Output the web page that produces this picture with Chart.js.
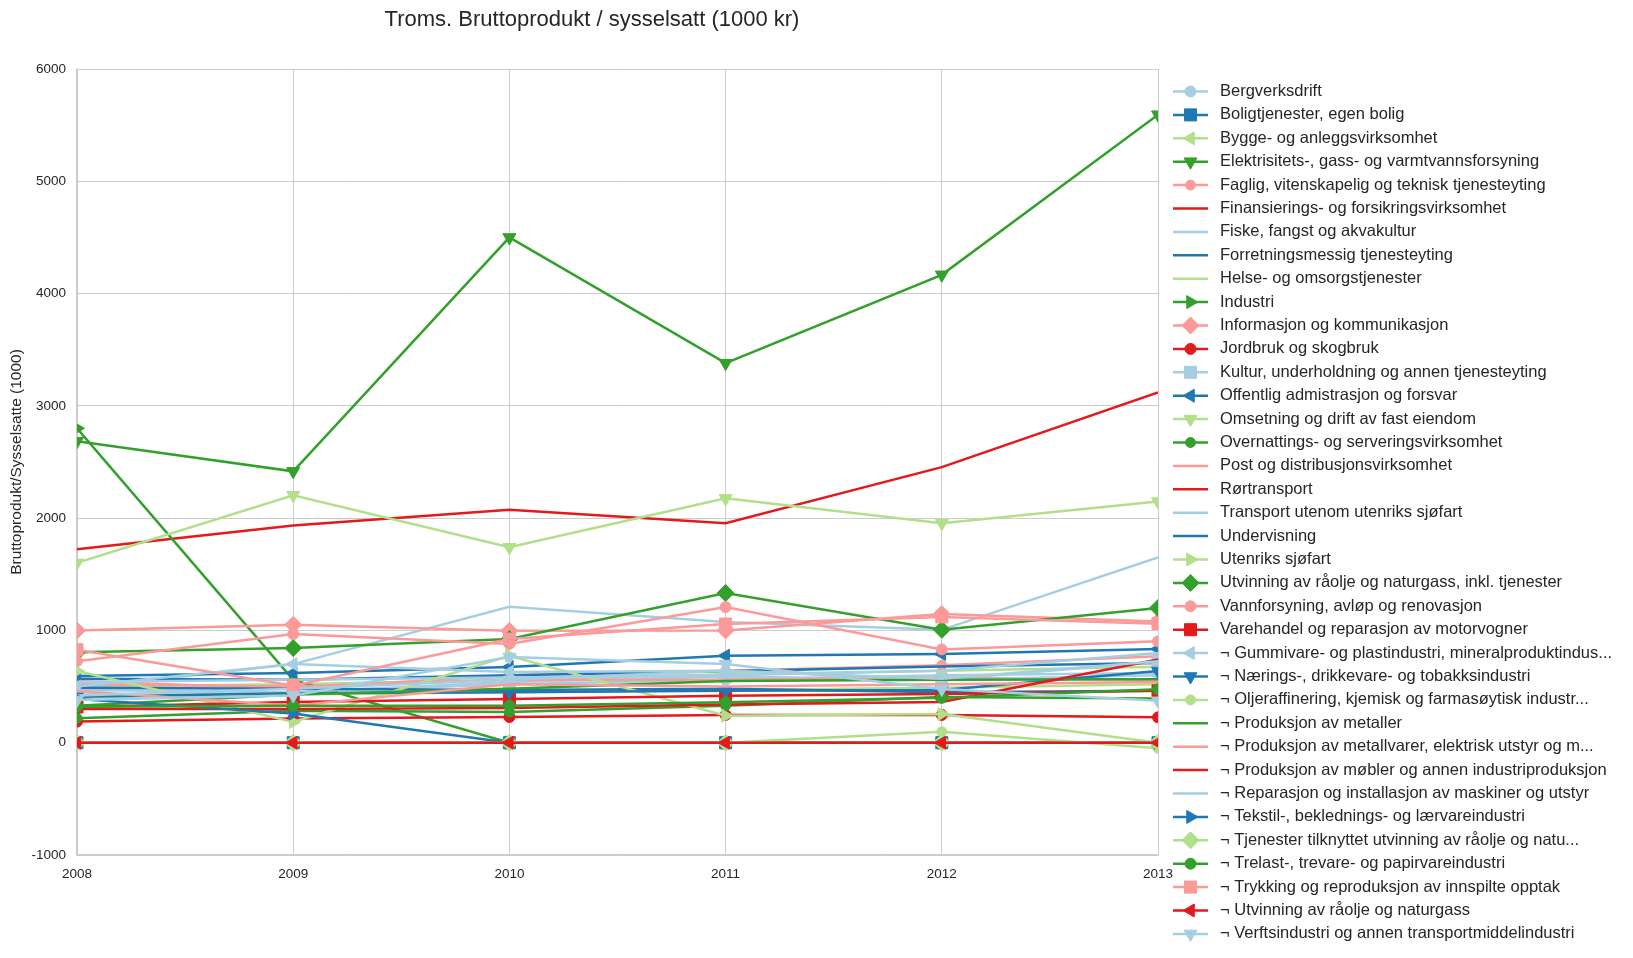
<!DOCTYPE html>
<html><head><meta charset="utf-8">
<script src="https://cdn.jsdelivr.net/npm/chart.js@4.4.1/dist/chart.umd.min.js"></script>
<style>html,body{margin:0;padding:0;background:#fff;}#wrap{width:1633px;height:958px;position:relative;}</style>
</head><body><div id="wrap"><canvas id="c"></canvas></div>
<script>
const years = ['2008','2009','2010','2011','2012','2013'];
const titleText = 'Troms. Bruttoprodukt / sysselsatt (1000 kr)';
const yTitle = 'Bruttoprodukt/Sysselsatte (1000)';

const bergverksdrift = [430, 450, 520, 560, 600, 620];
const boligtjenester = [0, 0, 0, 0, 0, 0];
const bygge = [500, 520, 560, 610, 640, 676];
const elektrisitet = [2685, 2417, 4500, 3380, 4167, 5593];
const faglig = [550, 480, 600, 640, 690, 770];
const finansiering = [1722, 1935, 2074, 1954, 2454, 3120];
const fiske = [480, 700, 1210, 1075, 1005, 1650];
const forretning = [570, 560, 600, 636, 678, 710];
const helse = [400, 430, 450, 470, 490, 520];
const industri = [2800, 560, 0, 0, 0, 0];
const informasjon = [1000, 1050, 997, 1000, 1146, 1080];
const jordbruk = [188, 215, 229, 247, 247, 226];
const kultur = [470, 450, 540, 590, 560, 720];
const offentlig = [594, 620, 674, 775, 790, 835];
const omsetning = [1602, 2204, 1741, 2176, 1954, 2148];
const overnatting = [218, 285, 273, 330, 407, 394];
const post = [520, 500, 560, 560, 580, 560];
const rortransport = [0, 0, 0, 0, 0, 0];
const transport = [540, 560, 580, 600, 640, 800];
const undervisning = [490, 480, 470, 480, 450, 462];
const utenriks = [638, 184, 775, 240, 256, 0];
const utvinningInkl = [806, 843, 923, 1333, 1006, 1200];
const vannforsyning = [726, 968, 880, 1208, 831, 903];
const varehandel = [318, 362, 389, 418, 433, 462];
const gummivare = [500, 700, 630, 640, 560, 600];
const naerings = [410, 440, 450, 463, 470, 638];
const oljeraffinering = [0, 0, 0, 0, 98, -50];
const metaller = [330, 430, 480, 550, 560, 565];
const metallvarer = [460, 330, 520, 500, 520, 540];
const mobler = [300, 300, 310, 340, 362, 741];
const reparasjon = [420, 480, 560, 640, 570, 726];
const tekstil = [390, 260, 0, 0, 0, 0];
const tjenester = [0, 0, 0, 0, 0, 0];
const trelast = [320, 330, 330, 360, 400, 476];
const trykking = [829, 508, 923, 1057, 1120, 1060];
const utvinningRaolje = [0, 0, 0, 0, 0, 0];
const verft = [380, 420, 763, 700, 478, 373];

const seriesNames = [
 'Bergverksdrift','Boligtjenester, egen bolig','Bygge- og anleggsvirksomhet',
 'Elektrisitets-, gass- og varmtvannsforsyning','Faglig, vitenskapelig og teknisk tjenesteyting',
 'Finansierings- og forsikringsvirksomhet','Fiske, fangst og akvakultur','Forretningsmessig tjenesteyting',
 'Helse- og omsorgstjenester','Industri','Informasjon og kommunikasjon','Jordbruk og skogbruk',
 'Kultur, underholdning og annen tjenesteyting','Offentlig admistrasjon og forsvar',
 'Omsetning og drift av fast eiendom','Overnattings- og serveringsvirksomhet',
 'Post og distribusjonsvirksomhet','Rørtransport','Transport utenom utenriks sjøfart','Undervisning',
 'Utenriks sjøfart','Utvinning av råolje og naturgass, inkl. tjenester','Vannforsyning, avløp og renovasjon',
 'Varehandel og reparasjon av motorvogner','¬ Gummivare- og plastindustri, mineralproduktindus...',
 '¬ Nærings-, drikkevare- og tobakksindustri','¬ Oljeraffinering, kjemisk og farmasøytisk industr...',
 '¬ Produksjon av metaller','¬ Produksjon av metallvarer, elektrisk utstyr og m...',
 '¬ Produksjon av møbler og annen industriproduksjon','¬ Reparasjon og installasjon av maskiner og utstyr',
 '¬ Tekstil-, beklednings- og lærvareindustri','¬ Tjenester tilknyttet utvinning av råolje og natu...',
 '¬ Trelast-, trevare- og papirvareindustri','¬ Trykking og reproduksjon av innspilte opptak',
 '¬ Utvinning av råolje og naturgass','¬ Verftsindustri og annen transportmiddelindustri'
];
const seriesValues = [
 bergverksdrift, boligtjenester, bygge, elektrisitet, faglig, finansiering, fiske, forretning, helse,
 industri, informasjon, jordbruk, kultur, offentlig, omsetning, overnatting, post, rortransport,
 transport, undervisning, utenriks, utvinningInkl, vannforsyning, varehandel, gummivare, naerings,
 oljeraffinering, metaller, metallvarer, mobler, reparasjon, tekstil, tjenester, trelast, trykking,
 utvinningRaolje, verft
];

const palette = ['#a6cee3','#1f78b4','#b2df8a','#33a02c','#fb9a99','#e31a1c'];
const markers = [
 {s:'circle',r:0,size:5.5},{s:'rect',r:0,size:8.5},{s:'triangle',r:-90,size:7.5},{s:'triangle',r:180,size:7.5},
 {s:'circle',r:0,size:5},null,null,null,null,{s:'triangle',r:90,size:7.5},{s:'rectRot',r:0,size:8.5}
];
const FONT = "Arial, 'Liberation Sans', sans-serif";
const TXT = '#262626';
const N = seriesNames.length;

const datasets = seriesNames.map((name, i) => {
  const col = palette[i % palette.length];
  const m = markers[i % markers.length];
  return {
    label: name, data: seriesValues[i], borderColor: col, backgroundColor: col,
    borderWidth: 2.5, tension: 0, clip: 0, order: N - i,
    pointStyle: m ? m.s : 'circle', pointRotation: m ? m.r : 0,
    pointRadius: m ? m.size : 0, pointHoverRadius: m ? m.size : 0,
    pointBorderWidth: 1, pointBorderColor: col, pointBackgroundColor: col
  };
});

function drawMarker(ctx, m, x, y, col) {
  ctx.save();
  ctx.fillStyle = col; ctx.strokeStyle = col; ctx.lineWidth = 1;
  if (Chart.helpers && Chart.helpers.drawPoint) {
    Chart.helpers.drawPoint(ctx, {pointStyle: m.s, rotation: m.r, radius: m.size, borderWidth: 1}, x, y);
  }
  ctx.restore();
}

const decor = {
  id: 'decor',
  afterDraw(chart) {
    const ctx = chart.ctx;
    ctx.save();
    ctx.fillStyle = TXT;
    ctx.font = '22px ' + FONT;
    ctx.textAlign = 'center'; ctx.textBaseline = 'middle';
    ctx.fillText(titleText, 592, 20);
    ctx.save();
    ctx.translate(17, 462); ctx.rotate(-Math.PI / 2);
    ctx.font = '15.5px ' + FONT;
    ctx.fillText(yTitle, 0, 0);
    ctx.restore();
    const x0 = 1173, x1 = 1208, tx = 1220, y0 = 91.5, dy = 23.4;
    ctx.font = '16.5px ' + FONT;
    ctx.textAlign = 'left';
    for (let i = 0; i < N; i++) {
      const y = y0 + i * dy;
      const col = palette[i % palette.length];
      const m = markers[i % markers.length];
      ctx.strokeStyle = col; ctx.lineWidth = 2.5;
      ctx.beginPath(); ctx.moveTo(x0, y); ctx.lineTo(x1, y); ctx.stroke();
      if (m) drawMarker(ctx, m, (x0 + x1) / 2, y, col);
      ctx.fillStyle = TXT;
      ctx.fillText(seriesNames[i], tx, y);
    }
    ctx.restore();
  }
};

new Chart(document.getElementById('c'), {
  type: 'line',
  data: { labels: years, datasets },
  options: {
    responsive: true, maintainAspectRatio: false, animation: false,
    layout: { padding: { left: 0, right: 475, top: 69, bottom: 0 } },
    plugins: { legend: { display: false }, tooltip: { enabled: false }, title: { display: false } },
    scales: {
      x: {
        type: 'category', offset: false,
        grid: { color: '#cccccc', lineWidth: 1, drawTicks: false },
        border: { color: '#cccccc', width: 1.25 },
        ticks: { color: TXT, font: { size: 13.5, family: FONT }, padding: 11, maxRotation: 0, autoSkip: false },
        afterFit(s) { s.height = 103; }
      },
      y: {
        min: -1000, max: 6000,
        grid: { color: '#cccccc', lineWidth: 1, drawTicks: false },
        border: { color: '#cccccc', width: 1.25 },
        ticks: { stepSize: 1000, color: TXT, font: { size: 13.5, family: FONT }, padding: 11,
                 callback: (v) => String(v) },
        afterFit(s) { s.width = 77; }
      }
    }
  },
  plugins: [decor]
});
</script></body></html>
